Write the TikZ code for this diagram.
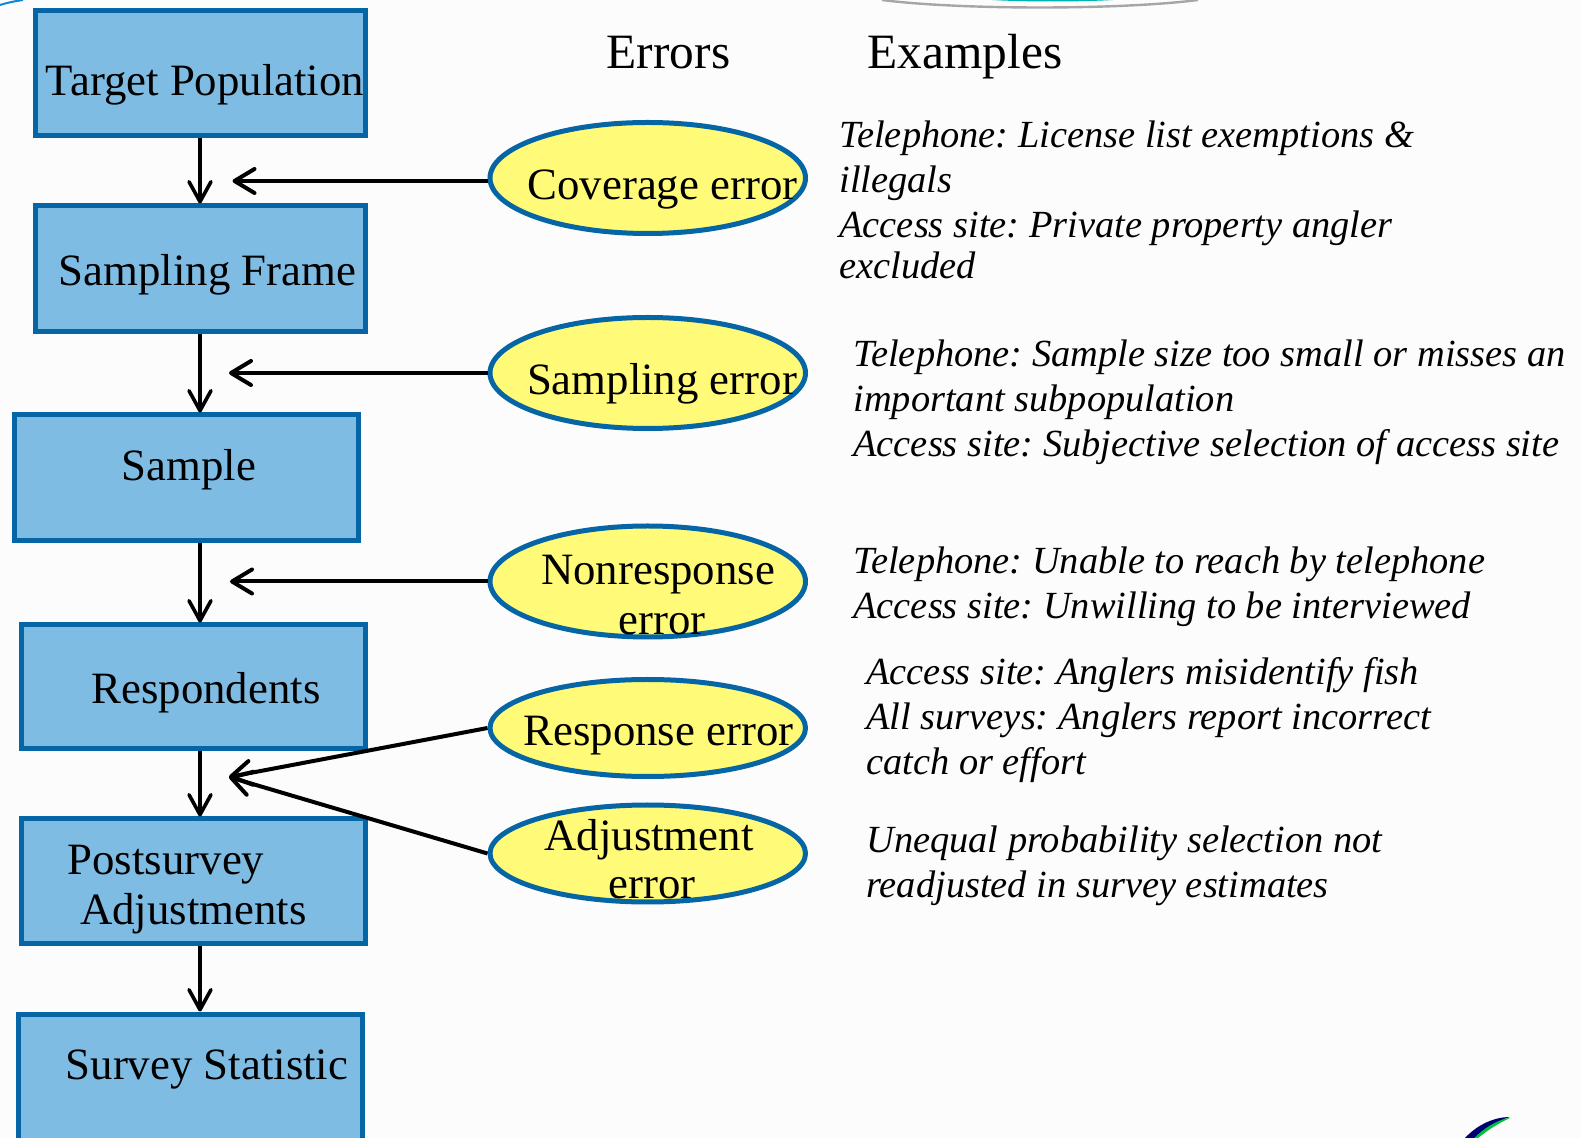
\documentclass[tikz,border=0pt]{standalone}
\usepackage{fontspec}
\setmainfont{Liberation Serif}
\usetikzlibrary{arrows.meta,shapes.geometric}
\definecolor{boxfill}{HTML}{7FBCE4}
\definecolor{edgeblue}{HTML}{0565A5}
\definecolor{ovalfill}{HTML}{FFFB78}
\tikzset{
  stagebox/.style={draw=edgeblue, fill=boxfill, line width=2.5pt, inner sep=0pt},
  errbox/.style={draw=edgeblue, fill=ovalfill, ellipse, line width=2.5pt, inner sep=0pt,
    minimum width=157.75pt, minimum height=55.5pt},
  boxtext/.style={anchor=base, inner sep=0pt, font=\frenchspacing\fontsize{22.4}{27}\selectfont},
  headtext/.style={anchor=base, inner sep=0pt, font=\fontsize{24.7}{29}\selectfont},
  exampletext/.style={anchor=north west, inner sep=0pt, align=left,
    font=\frenchspacing\fontsize{19.2}{22.5}\selectfont\itshape},
  flowline/.style={-{Straight Barb[length=10pt,width=11pt,round]}, line width=1.8pt},
  errline/.style={-{Straight Barb[length=10pt,width=12pt,round]}, line width=2pt}
}
\begin{document}
\begin{tikzpicture}[x=0.5pt, y=-0.5pt]
    \clip (0,0) rectangle (1581,1138);
    \fill [black!1] (0,0) rectangle (1581,1138);

    % Slide decoration
    \draw [cyan!70!blue, line width=1pt] (0,5) .. controls (8,2.5) and (16,1) .. (23,0);
    \fill [teal!60!cyan] (992,0) -- (1113,0) .. controls (1080,2) and (1025,2) .. (992,0);
    \draw [gray!70, line width=1.2pt] (882,0) .. controls (960,10) and (1120,10) .. (1198,0);
    \fill [green!50!teal] (1465,1138) .. controls (1480,1125) and (1495,1119) .. (1510,1118) .. controls (1497,1124) and (1488,1130) .. (1478,1138) -- cycle;
    \fill [blue!45!black] (1465,1138) .. controls (1478,1124) and (1495,1117) .. (1510,1117) .. controls (1495,1121) and (1484,1128) .. (1474,1138) -- cycle;

    % Process boxes
    \node [stagebox, minimum width=165.25pt, minimum height=62.5pt] (target) at (200.25,73.5) {};
    \node [stagebox, minimum width=165.25pt, minimum height=63pt] (frame) at (200.25,269) {};
    \node [stagebox, minimum width=172.25pt, minimum height=63pt] (sample) at (186.25,478) {};
    \node [stagebox, minimum width=172pt, minimum height=61.75pt] (resp) at (193.5,686.75) {};
    \node [stagebox, minimum width=172pt, minimum height=62.25pt] (post) at (193.5,881.25) {};
    \node [stagebox, minimum width=172pt, minimum height=65.5pt] (stat) at (190,1079.5) {};

    \node [boxtext] (target_text) at (205,96) {Target Population};
    \node [boxtext] (frame_text) at (207.5,286) {Sampling Frame};
    \node [boxtext] (sample_text) at (189,481) {Sample};
    \node [boxtext] (resp_text) at (206,704) {Respondents};
    \node [boxtext] (post_text) at (166,875) {Postsurvey};
    \node [boxtext] (adj_text) at (193.5,925) {Adjustments};
    \node [boxtext] (stat_text) at (207,1079) {Survey Statistic};

    % Flow down the boxes
    \coordinate (axis) at (200,0);
    \draw [flowline] (axis |- target.south) -- (axis |- frame.north);
    \draw [flowline] (axis |- frame.south) -- (axis |- sample.north);
    \draw [flowline] (axis |- sample.south) -- (axis |- resp.north);
    \draw [flowline] (axis |- resp.south) -- (axis |- post.north);
    \draw [flowline] (axis |- post.south) -- (axis |- stat.north);

    % Error ovals
    \node [errbox] (cov_err) at (647.75,178) {};
    \node [errbox] (smp_err) at (647.75,373) {};
    \node [errbox] (non_err) at (647.75,581.5) {};
    \node [errbox, minimum height=48.5pt] (rsp_err) at (647.75,728) {};
    \node [errbox, minimum height=48.5pt] (adj_err) at (647.75,853.5) {};

    \node [boxtext] (cov_text) at (662.5,200) {Coverage error};
    \node [boxtext] (smp_text) at (662,395) {Sampling error};
    \node [boxtext] (non_text) at (658,585) {Nonresponse};
    \node [boxtext] (non_text2) at (662,635) {error};
    \node [boxtext] (rsp_text) at (658.5,746) {Response error};
    \node [boxtext] (adj_text2) at (649,850) {Adjustment};
    \node [boxtext] (adj_text3) at (652,899) {error};

    % Arrows from the ovals
    \coordinate (cov_tip) at (232.5,181);
    \coordinate (smp_tip) at (229,373);
    \coordinate (non_tip) at (230,581.5);
    \coordinate (late_tip) at (229,777);
    \draw [errline] (cov_err.west |- cov_tip) -- (cov_tip);
    \draw [errline] (smp_err.west) -- (smp_tip);
    \draw [errline] (non_err.west) -- (non_tip);
    \draw [errline] (rsp_err.west) -- (late_tip);
    \draw [errline] (adj_err.west) -- (late_tip);

    % Column heads
    \node [headtext] (errors_head) at (668.5,68.7) {Errors};
    \node [headtext, anchor=base west] (examples_head) at (867,68.7) {Examples};

    % Examples
    \node [exampletext] (cov_ex) at (839,120) {Telephone: License list exemptions \&\\illegals\\Access site: Private property angler\\[-2pt]excluded};
    \node [exampletext] (smp_ex) at (853,339) {Telephone: Sample size too small or misses an\\important subpopulation\\Access site: Subjective selection of access site};
    \node [exampletext] (non_ex) at (853,546) {Telephone: Unable to reach by telephone\\Access site: Unwilling to be interviewed};
    \node [exampletext] (rsp_ex) at (866,657) {Access site: Anglers misidentify fish\\All surveys: Anglers report incorrect\\catch or effort};
    \node [exampletext] (adj_ex) at (866,825) {Unequal probability selection not\\readjusted in survey estimates};
\end{tikzpicture}
\end{document}
